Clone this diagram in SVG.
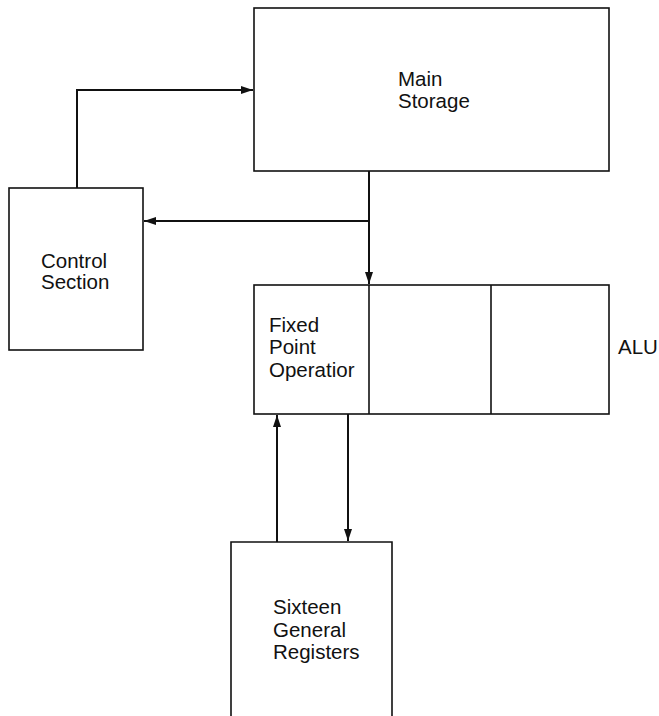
<svg xmlns="http://www.w3.org/2000/svg" width="659" height="716" viewBox="0 0 659 716">
<style>
.box{fill:none;stroke:#111;stroke-width:1.6}
.ln{fill:none;stroke:#111;stroke-width:2}
text{font-family:"Liberation Sans",Arial,sans-serif;font-size:20.5px;fill:#111}
</style>
<defs>
<marker id="ah" viewBox="0 0 12 10" refX="12" refY="5" markerWidth="12" markerHeight="10" markerUnits="userSpaceOnUse" orient="auto">
<path d="M0,1 L12,5 L0,9 Z" fill="#111"/>
</marker>
</defs>
<rect width="659" height="716" fill="#fff"/>
<g id="connectors">
<path class="ln" d="M77,188 V90 H253" marker-end="url(#ah)"/>
<path class="ln" d="M369,171 V284" marker-end="url(#ah)"/>
<path class="ln" d="M369,221 H144" marker-end="url(#ah)"/>
<path class="ln" d="M277,542 V415" marker-end="url(#ah)"/>
<path class="ln" d="M348,414 V541" marker-end="url(#ah)"/>
</g>
<g id="main-storage">
<rect class="box" x="254" y="8" width="355" height="163"/>
<text x="398" y="86">Main</text>
<text x="398" y="108">Storage</text>
</g>
<g id="control-section">
<rect class="box" x="9" y="188" width="134" height="162"/>
<text x="41" y="268">Control</text>
<text x="41" y="289">Section</text>
</g>
<g id="alu">
<rect class="box" x="254" y="285" width="355" height="129"/>
<line class="box" x1="369" y1="285" x2="369" y2="414"/>
<line class="box" x1="491" y1="285" x2="491" y2="414"/>
<text x="618" y="354">ALU</text>
</g>
<g id="fixed-point">
<text x="269" y="332">Fixed</text>
<text x="269" y="354">Point</text>
<text x="269" y="377">Operatior</text>
</g>
<g id="registers">
<path class="box" d="M231,720 V542 H392 V720"/>
<text x="273" y="614">Sixteen</text>
<text x="273" y="637">General</text>
<text x="273" y="659">Registers</text>
</g>
</svg>
